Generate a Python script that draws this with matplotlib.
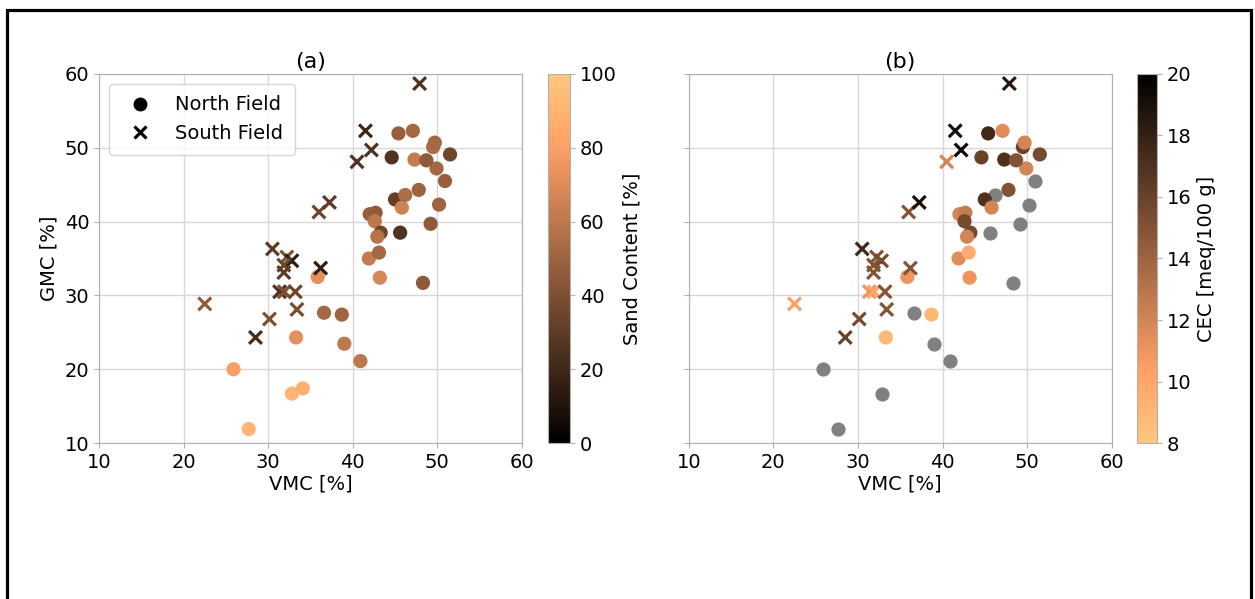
import numpy as np
import matplotlib
matplotlib.use('Agg')
import matplotlib.pyplot as plt
from matplotlib.lines import Line2D
from matplotlib.patches import Rectangle

# North field (circles): VMC, GMC, sand content, CEC (nan = no CEC, shown grey)
north_vmc = [27.7, 25.9, 32.8, 34.1, 33.3, 35.85, 36.6, 38.7, 39.0, 40.9,
             41.9, 43.1, 43.2, 48.3, 42.0, 42.7, 42.6, 43.3, 42.9, 45.6,
             49.2, 45.0, 45.8, 46.2, 47.8, 50.2, 50.9, 49.9, 44.6, 47.3,
             48.7, 51.5, 49.5, 49.7, 45.4, 47.1]
north_gmc = [11.9, 20.0, 16.7, 17.4, 24.3, 32.5, 27.65, 27.4, 23.45, 21.1,
             35.0, 35.8, 32.4, 31.7, 41.0, 41.2, 40.05, 38.5, 37.95, 38.5,
             39.7, 43.0, 41.9, 43.6, 44.3, 42.3, 45.5, 47.2, 48.7, 48.4,
             48.3, 49.1, 50.1, 50.7, 51.95, 52.3]
north_sand = [90, 80, 90, 88, 72, 72, 52, 50, 60, 60,
              62, 52, 68, 45, 48, 45, 60, 35, 58, 25,
              45, 32, 65, 55, 50, 50, 48, 52, 25, 62,
              45, 35, 55, 52, 48, 52]
north_cec = [np.nan, np.nan, np.nan, np.nan, 9.0, 11.0, np.nan, 9.0, np.nan, np.nan,
             11.5, 9.5, 11.0, np.nan, 12.0, 12.5, 15.5, 15.5, 12.0, np.nan,
             np.nan, 17.0, 12.0, np.nan, 15.0, np.nan, np.nan, 12.0, 16.0, 17.0,
             15.0, 15.5, 16.0, 12.0, 17.5, 11.5]
# sample not shown in panel (b)
north_in_b = [True, True, True, False] + [True] * 32

# South field (crosses)
south_vmc = [22.5, 28.5, 30.15, 30.5, 32.2, 32.8, 31.85, 31.85, 31.35, 31.9,
             33.2, 33.4, 36.2, 36.0, 37.25, 40.5, 41.5, 42.2, 47.9]
south_gmc = [28.85, 24.3, 26.8, 36.3, 35.2, 34.7, 34.1, 33.1, 30.5, 30.5,
             30.5, 28.1, 33.7, 41.3, 42.6, 48.1, 52.3, 49.7, 58.7]
south_sand = [45, 22, 40, 30, 40, 15, 35, 30, 25, 40,
              35, 38, 15, 35, 30, 25, 20, 25, 25]
south_cec = [10.5, 16.0, 15.5, 17.5, 15.0, 15.5, 15.0, 15.0, 11.0, 10.0,
             15.0, 15.0, 15.0, 15.0, 19.0, 12.0, 19.0, 19.5, 18.5]

plt.rcParams['font.family'] = 'DejaVu Sans'
plt.rcParams['font.size'] = 14
plt.rcParams['axes.edgecolor'] = '#b0b0b0'
plt.rcParams['xtick.color'] = '#b0b0b0'
plt.rcParams['ytick.color'] = '#b0b0b0'
plt.rcParams['xtick.labelcolor'] = 'black'
plt.rcParams['ytick.labelcolor'] = 'black'

fig = plt.figure(figsize=(12.55, 5.99), dpi=100)
ax_a = fig.add_axes([0.0789, 0.2604, 0.337, 0.6161])
cax_a = fig.add_axes([0.4367, 0.2604, 0.0175, 0.6161])
ax_b = fig.add_axes([0.5488, 0.2604, 0.337, 0.6161])
cax_b = fig.add_axes([0.9057, 0.2604, 0.016, 0.6161])

msize = 85

# panel (a): sand content
sc = ax_a.scatter(north_vmc, north_gmc, c=north_sand, cmap='copper', vmin=0, vmax=100,
                  s=msize, marker='o', zorder=3)
ax_a.scatter(south_vmc, south_gmc, c=south_sand, cmap='copper', vmin=0, vmax=100,
             s=msize, marker='x', linewidths=2.3, zorder=3)
cb = fig.colorbar(sc, cax=cax_a)
cb.set_label('Sand Content [%]')
cb.set_ticks([0, 20, 40, 60, 80, 100])

handles = [Line2D([], [], marker='o', color='black', ls='', markersize=9, label='North Field'),
           Line2D([], [], marker='x', color='black', ls='', markersize=9, mew=2.3, label='South Field')]
ax_a.legend(handles=handles, loc='upper left', fontsize=14, borderpad=0.6)

# panel (b): CEC
n_vmc = np.array(north_vmc)[north_in_b]
n_gmc = np.array(north_gmc)[north_in_b]
n_cec = np.array(north_cec)[north_in_b]
missing = np.isnan(n_cec)
ax_b.scatter(n_vmc[missing], n_gmc[missing], color='gray', s=msize, marker='o', zorder=3)
sc_b = ax_b.scatter(n_vmc[~missing], n_gmc[~missing], c=n_cec[~missing], cmap='copper_r',
                    vmin=8, vmax=20, s=msize, marker='o', zorder=3)
ax_b.scatter(south_vmc, south_gmc, c=south_cec, cmap='copper_r', vmin=8, vmax=20,
             s=msize, marker='x', linewidths=2.3, zorder=3)
cb_b = fig.colorbar(sc_b, cax=cax_b)
cb_b.set_label('CEC [meq/100 g]')
cb_b.set_ticks([8, 10, 12, 14, 16, 18, 20])

for ax, title in [(ax_a, '(a)'), (ax_b, '(b)')]:
    ax.set_xlim(10, 60)
    ax.set_ylim(10, 60)
    ax.set_xticks([10, 20, 30, 40, 50, 60])
    ax.set_yticks([10, 20, 30, 40, 50, 60])
    ax.grid(True, color='#d8d8d8', linewidth=1)
    ax.set_axisbelow(True)
    ax.set_xlabel('VMC [%]', labelpad=2)
    ax.set_title(title, fontsize=16, pad=4)
ax_a.set_ylabel('GMC [%]')
ax_b.tick_params(labelleft=False)

for c in (cb, cb_b):
    c.outline.set_edgecolor('#b0b0b0')

# outer frame
fig.patches.append(Rectangle((0.0052, -0.02), 0.992, 1.0025, transform=fig.transFigure,
                             fill=False, edgecolor='black', linewidth=2.3))

fig.savefig('out.png', dpi=100)
